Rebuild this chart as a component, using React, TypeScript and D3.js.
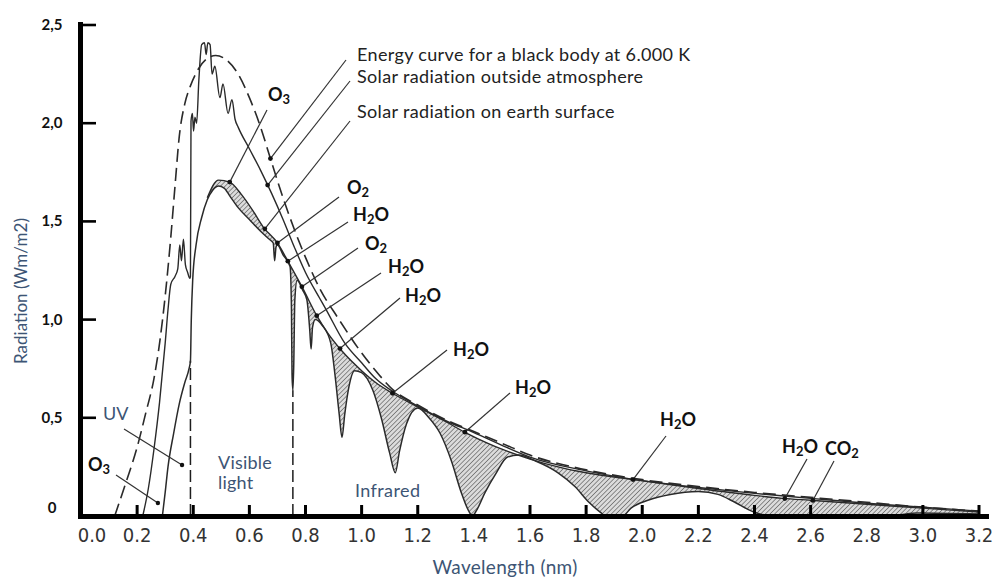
import React from "react";
import * as d3 from "d3";

type Pt = [number, number];

// Axis ticks
const xTickValues = [0, 0.2, 0.4, 0.6, 0.8, 1.0, 1.2, 1.4, 1.6, 1.8, 2.0, 2.2, 2.4, 2.6, 2.8, 3.0, 3.2];
const xTickLabels = ["0.0", "0.2", "0.4", "0.6", "0.8", "1.0", "1.2", "1.4", "1.6", "1.8", "2.0", "2.2", "2.4", "2.6", "2.8", "3.0", "3.2"];
const xTickMarks = [0.2, 0.4, 0.6, 0.8, 1.0, 1.2, 1.6, 1.8, 2.0, 2.2, 2.4, 2.6, 3.0, 3.2];
const yTickValues = [0, 0.5, 1, 1.5, 2, 2.5];
const yTickLabels = ["0", "0,5", "1,0", "1,5", "2,0", "2,5"];

// Black body at 6000 K (scaled)
const blackBody: Pt[] = [
  [0.12, 0], [0.16, 0.17], [0.2, 0.35], [0.23, 0.52], [0.26, 0.7], [0.28, 0.88], [0.3, 1.12],
  [0.32, 1.42], [0.335, 1.68], [0.35, 1.93], [0.37, 2.1], [0.39, 2.19], [0.42, 2.28], [0.45, 2.33],
  [0.48, 2.345], [0.52, 2.32], [0.56, 2.25], [0.6, 2.13], [0.64, 1.98], [0.675, 1.82], [0.72, 1.62],
  [0.76, 1.46], [0.805, 1.3], [0.85, 1.16], [0.915, 1.01], [0.99, 0.85], [1.05, 0.74], [1.11, 0.645],
  [1.2, 0.565], [1.3, 0.49], [1.4, 0.43], [1.5, 0.37], [1.6, 0.31], [1.8, 0.235], [2.0, 0.185],
  [2.2, 0.15], [2.4, 0.12], [2.6, 0.095], [2.8, 0.07], [3.0, 0.045], [3.2, 0.025],
];

// Solar radiation outside the atmosphere
const outsideAtmosphere: Pt[] = [
  [0.22, 0], [0.24, 0.14], [0.26, 0.34], [0.28, 0.58], [0.3, 0.88], [0.31, 1.05], [0.32, 1.18],
  [0.335, 1.22], [0.345, 1.26], [0.352, 1.38], [0.358, 1.3], [0.365, 1.41], [0.372, 1.28],
  [0.38, 1.24], [0.388, 1.21], [0.39, 1.22], [0.392, 2.01], [0.397, 2.05], [0.401, 1.96],
  [0.406, 2.03], [0.412, 2.0], [0.42, 2.22], [0.43, 2.4], [0.44, 2.41], [0.446, 2.35], [0.452, 2.41],
  [0.46, 2.4], [0.467, 2.25], [0.477, 2.29], [0.495, 2.13], [0.506, 2.2], [0.524, 2.05], [0.538, 2.12],
  [0.549, 2.02], [0.56, 1.98], [0.6, 1.87], [0.64, 1.76], [0.68, 1.64], [0.72, 1.51], [0.76, 1.37],
  [0.8, 1.24], [0.85, 1.11], [0.87, 1.06], [0.94, 0.88], [1.0, 0.78], [1.05, 0.7], [1.11, 0.635],
  [1.2, 0.56], [1.3, 0.485], [1.4, 0.425], [1.5, 0.36], [1.6, 0.3], [1.8, 0.23], [2.0, 0.18],
  [2.2, 0.145], [2.4, 0.115], [2.6, 0.09], [2.8, 0.065], [3.0, 0.045], [3.2, 0.025],
];

// Surface radiation without absorption bands (upper edge of the hatched bands)
const surfaceEnvelope: Pt[] = [
  [0.45, 1.62], [0.49, 1.71], [0.53, 1.7], [0.57, 1.64], [0.61, 1.56], [0.65, 1.47], [0.7, 1.39],
  [0.74, 1.29], [0.79, 1.16], [0.84, 1.02], [0.88, 0.93], [0.93, 0.84], [1.0, 0.74], [1.05, 0.68],
  [1.11, 0.625], [1.2, 0.555], [1.3, 0.48], [1.37, 0.425], [1.45, 0.37], [1.5, 0.34], [1.6, 0.29],
  [1.7, 0.25], [1.8, 0.22], [1.97, 0.185], [2.2, 0.14], [2.4, 0.105], [2.5, 0.09], [2.6, 0.08],
  [2.8, 0.06], [3.0, 0.04], [3.2, 0.02],
];

// Solar radiation at the earth surface
const earthSurface: Pt[] = [
  [0.29, 0], [0.3, 0.12], [0.31, 0.25], [0.33, 0.42], [0.35, 0.57], [0.37, 0.68], [0.385, 0.75],
  [0.39, 0.79], [0.393, 1.0], [0.398, 1.2], [0.41, 1.38], [0.43, 1.52], [0.45, 1.61], [0.47, 1.66],
  [0.49, 1.68], [0.51, 1.67], [0.53, 1.63], [0.56, 1.57], [0.6, 1.51], [0.64, 1.45], [0.67, 1.41],
  [0.685, 1.39], [0.69, 1.3], [0.695, 1.37], [0.7, 1.38], [0.72, 1.33], [0.745, 1.27], [0.75, 1.05],
  [0.752, 0.72], [0.755, 0.64], [0.758, 0.76], [0.762, 1.1], [0.77, 1.2], [0.79, 1.15], [0.805, 1.1],
  [0.815, 0.95], [0.82, 0.85], [0.825, 0.96], [0.835, 1.0], [0.86, 0.97], [0.89, 0.88], [0.905, 0.72],
  [0.92, 0.52], [0.93, 0.4], [0.94, 0.52], [0.955, 0.66], [0.975, 0.74], [1.0, 0.73], [1.04, 0.64],
  [1.07, 0.5], [1.1, 0.32], [1.12, 0.22], [1.135, 0.33], [1.16, 0.47], [1.2, 0.55], [1.24, 0.5],
  [1.28, 0.42], [1.32, 0.28], [1.355, 0.12], [1.38, 0.03], [1.395, 0], [1.41, 0.03], [1.44, 0.12],
  [1.48, 0.22], [1.52, 0.3], [1.56, 0.31], [1.62, 0.28], [1.7, 0.22], [1.76, 0.15], [1.81, 0.07],
  [1.85, 0.02], [1.87, 0], [1.93, 0], [1.96, 0.04], [2.02, 0.08], [2.1, 0.11], [2.2, 0.125],
  [2.27, 0.11], [2.33, 0.07], [2.39, 0.025], [2.44, 0.005], [2.9, 0.005], [2.98, 0.015], [3.2, 0.01],
];

// Visible-light boundaries (wavelength)
const visibleBounds = [0.39, 0.755];

const legendTexts = [
  "Energy curve for a black body at 6.000 K",
  "Solar radiation outside atmosphere",
  "Solar radiation on earth surface",
];

type SeriesKey = "blackBody" | "outside" | "envelope";
const seriesMap: Record<SeriesKey, Pt[]> = {
  blackBody,
  outside: outsideAtmosphere,
  envelope: surfaceEnvelope,
};

// Legend leaders: text position, leader start, tip on a series
const legendLayout: { tx: number; ty: number; sx: number; sy: number; tip: number; series: SeriesKey }[] = [
  { tx: 357, ty: 61, sx: 346, sy: 60, tip: 0.675, series: "blackBody" },
  { tx: 357, ty: 83, sx: 350, sy: 81, tip: 0.665, series: "outside" },
  { tx: 357, ty: 118, sx: 350, sy: 121, tip: 0.655, series: "envelope" },
];

// Absorbing gases and the wavelength each points at
const absorbers: { label: string; tip: number; lx: number; ly: number; sx: number; sy: number }[] = [
  { label: "O3", tip: 0.53, lx: 268, ly: 101, sx: 267, sy: 110 },
  { label: "O2", tip: 0.7, lx: 347, ly: 194, sx: 339, sy: 197 },
  { label: "H2O", tip: 0.737, lx: 353, ly: 221, sx: 348, sy: 222 },
  { label: "O2", tip: 0.787, lx: 365, ly: 250, sx: 358, sy: 248 },
  { label: "H2O", tip: 0.84, lx: 388, ly: 273, sx: 381, sy: 273 },
  { label: "H2O", tip: 0.923, lx: 405, ly: 302, sx: 400, sy: 298 },
  { label: "H2O", tip: 1.11, lx: 453, ly: 356, sx: 447, sy: 350 },
  { label: "H2O", tip: 1.368, lx: 515, ly: 394, sx: 510, sy: 393 },
  { label: "H2O", tip: 1.967, lx: 660, ly: 426, sx: 666, sy: 436 },
  { label: "H2O", tip: 2.508, lx: 782, ly: 453, sx: 807, sy: 459 },
  { label: "CO2", tip: 2.608, lx: 825, ly: 455, sx: 834, sy: 461 },
];

// Pointers in the ultraviolet part (wavelength, radiation)
const uvPointers: { label: string; chem: boolean; tip: Pt; lx: number; ly: number; sx: number; sy: number }[] = [
  { label: "UV", chem: false, tip: [0.36, 0.26], lx: 103, ly: 420, sx: 124, sy: 429 },
  { label: "O3", chem: true, tip: [0.274, 0.066], lx: 88, ly: 471, sx: 116, sy: 475 },
];

const W = 998;
const H = 578;
const FONT = "Lato, 'Open Sans', sans-serif";
const BLUE = "#3d5575";
const INK = "#1e1e1e";

const x = d3.scaleLinear().domain([0, 3.2]).range([81, 979]);
const y = d3.scaleLinear().domain([0, 2.5]).range([516, 25]);

function valueAt(series: Pt[], l: number): number {
  const i = d3.bisector((d: Pt) => d[0]).left(series, l);
  if (i <= 0) return series[0][1];
  if (i >= series.length) return series[series.length - 1][1];
  const [x0, y0] = series[i - 1];
  const [x1, y1] = series[i];
  return y0 + ((y1 - y0) * (l - x0)) / (x1 - x0);
}

function Chem({ label, x: tx, y: ty, size = 18 }: { label: string; x: number; y: number; size?: number }) {
  const parts = label.split("");
  let lowered = false;
  return (
    <text x={tx} y={ty} fontFamily={FONT} fontWeight={700} fontSize={size} fill="#111">
      {parts.map((ch, i) => {
        const isDigit = /\d/.test(ch);
        let dy = 0;
        if (isDigit && !lowered) {
          dy = 3;
          lowered = true;
        } else if (!isDigit && lowered) {
          dy = -3;
          lowered = false;
        }
        return (
          <tspan key={i} dy={dy} fontSize={isDigit ? size * 0.72 : size}>
            {ch}
          </tspan>
        );
      })}
    </text>
  );
}

export default function App() {
  const curve = d3.curveMonotoneX;
  const line = d3
    .line<Pt>()
    .x((d) => x(d[0]))
    .y((d) => y(d[1]))
    .curve(curve);

  const underArea = d3
    .area<Pt>()
    .x((d) => x(d[0]))
    .y0(y(0) + 2)
    .y1((d) => y(d[1]))
    .curve(curve);

  // the cleared region starts a little left of the hatch so no seam is left
  const envStart = surfaceEnvelope[0][0];
  const surfaceRight = earthSurface.filter((d) => d[0] >= envStart - 0.03);

  return (
    <svg
      width={W}
      height={H}
      viewBox={`0 0 ${W} ${H}`}
      style={{ position: "absolute", left: 0, top: 0, background: "#fff" }}
    >
      <defs>
        <pattern id="hatch" width="3.3" height="3.3" patternUnits="userSpaceOnUse" patternTransform="rotate(45)">
          <rect width="3.3" height="3.3" fill="#dcdcdc" />
          <line x1="0" y1="0" x2="0" y2="3.3" stroke="#4a4a4a" strokeWidth="1.15" />
        </pattern>
      </defs>

      {/* absorption bands: hatch under the envelope, cleared under the surface curve */}
      <path d={underArea(surfaceEnvelope) || ""} fill="url(#hatch)" />
      <path d={underArea(surfaceRight) || ""} fill="#fff" stroke="#fff" strokeWidth={0.6} />

      {/* visible-light boundaries */}
      {visibleBounds.map((b, i) => (
        <line
          key={i}
          x1={x(b)}
          x2={x(b)}
          y1={y(0)}
          y2={y(valueAt(earthSurface, b))}
          stroke={INK}
          strokeWidth={1.5}
          strokeDasharray="12 5"
        />
      ))}

      {/* curves */}
      <path d={line(blackBody) || ""} fill="none" stroke="#2a2a2a" strokeWidth={1.6} strokeDasharray="13 6" />
      <path d={line(outsideAtmosphere) || ""} fill="none" stroke="#2a2a2a" strokeWidth={1.4} />
      <path d={line(surfaceEnvelope) || ""} fill="none" stroke="#2a2a2a" strokeWidth={1.4} />
      <path d={line(earthSurface) || ""} fill="none" stroke="#2a2a2a" strokeWidth={1.5} />

      {/* legend leaders */}
      {legendLayout.map((l, i) => {
        const tx = x(l.tip);
        const ty = y(valueAt(seriesMap[l.series], l.tip));
        return (
          <g key={i}>
            <line x1={l.sx} y1={l.sy} x2={tx} y2={ty} stroke="#333" strokeWidth={1.2} />
            <circle cx={tx} cy={ty} r={2.4} fill="#111" />
            <text x={l.tx} y={l.ty} fontFamily={FONT} fontSize={18} letterSpacing={0.35} fill="#222">
              {legendTexts[i]}
            </text>
          </g>
        );
      })}

      {/* absorber labels */}
      {absorbers.map((a, i) => {
        const tx = x(a.tip);
        const ty = y(valueAt(surfaceEnvelope, a.tip));
        return (
          <g key={i}>
            <line x1={a.sx} y1={a.sy} x2={tx} y2={ty} stroke="#333" strokeWidth={1.2} />
            <circle cx={tx} cy={ty} r={2.4} fill="#111" />
            <Chem label={a.label} x={a.lx} y={a.ly} />
          </g>
        );
      })}

      {uvPointers.map((p, i) => {
        const tx = x(p.tip[0]);
        const ty = y(p.tip[1]);
        return (
          <g key={i}>
            <line x1={p.sx} y1={p.sy} x2={tx} y2={ty} stroke="#333" strokeWidth={1.2} />
            <circle cx={tx} cy={ty} r={2.2} fill="#111" />
            {p.chem ? (
              <Chem label={p.label} x={p.lx} y={p.ly} />
            ) : (
              <text x={p.lx} y={p.ly} fontFamily={FONT} fontSize={18} fill={BLUE}>
                {p.label}
              </text>
            )}
          </g>
        );
      })}

      {/* region names */}
      <text x={218} y={469} fontFamily={FONT} fontSize={18} letterSpacing={0.2} fill={BLUE}>
        Visible
      </text>
      <text x={218} y={489} fontFamily={FONT} fontSize={18} letterSpacing={0.2} fill={BLUE}>
        light
      </text>
      <text x={355} y={497} fontFamily={FONT} fontSize={18} letterSpacing={0.4} fill={BLUE}>
        Infrared
      </text>

      {/* axes */}
      <line x1={x(0) - 0.5} x2={x(0) - 0.5} y1={22} y2={y(0) + 3} stroke="#000" strokeWidth={5} />
      <line x1={x(0) - 3} x2={x(3.2) + 10} y1={y(0) + 0.5} y2={y(0) + 0.5} stroke="#000" strokeWidth={5} />
      {yTickValues.slice(1).map((v, i) => (
        <line key={i} x1={x(0)} x2={x(0) + 15} y1={y(v)} y2={y(v)} stroke="#000" strokeWidth={2.6} />
      ))}
      {xTickMarks.map((v, i) => (
        <line key={i} x1={x(v)} x2={x(v)} y1={y(0)} y2={y(0) - 11} stroke="#000" strokeWidth={3} />
      ))}
      {yTickValues.map((v, i) => (
        <text
          key={i}
          x={52}
          y={Math.min(y(v) + 5, y(0) - 3)}
          textAnchor="middle"
          fontFamily={FONT}
          fontWeight={700}
          fontSize={15}
          fill="#111"
        >
          {yTickLabels[i]}
        </text>
      ))}
      {xTickValues.map((v, i) => (
        <text
          key={i}
          x={Math.max(x(v), x(0) + 11)}
          y={542}
          textAnchor="middle"
          fontFamily="'DejaVu Sans Condensed', 'DejaVu Sans', sans-serif"
          fontStretch="condensed"
          fontSize={20}
          fill="#333"
        >
          {xTickLabels[i]}
        </text>
      ))}

      {/* axis titles */}
      <text
        transform={`translate(27, 291) rotate(-90)`}
        textAnchor="middle"
        fontFamily={FONT}
        fontSize={17}
        fill={BLUE}
      >
        Radiation (Wm/m2)
      </text>
      <text x={505} y={574} textAnchor="middle" fontFamily={FONT} fontSize={19} letterSpacing={0.3} fill={BLUE}>
        Wavelength (nm)
      </text>
    </svg>
  );
}
